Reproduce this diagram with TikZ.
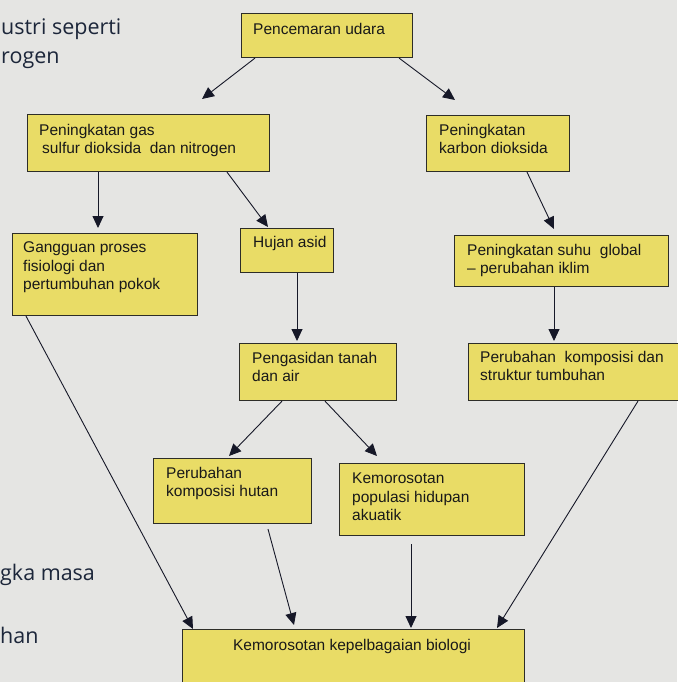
\documentclass[tikz,border=0pt]{standalone}
\usepackage{fontspec}
\setmainfont{Liberation Sans}
\newfontfamily\pagefont{Open Sans}
\usetikzlibrary{arrows.meta,calc}
\definecolor{paper}{RGB}{229,229,227}
\definecolor{boxfill}{RGB}{233,220,102}
\definecolor{boxline}{RGB}{45,45,40}
\definecolor{arrowc}{RGB}{22,24,40}
\definecolor{inkc}{RGB}{28,38,58}
\begin{document}
\begin{tikzpicture}[x=1pt,y=-1pt,
  box/.style={draw=boxline,line width=1.1pt,fill=boxfill,anchor=north west,inner sep=0pt,rectangle},
  txt/.style={anchor=north west,inner sep=0pt,align=left,font=\fontsize{15.5}{18.5}\selectfont,text=black!90},
  arr/.style={draw=arrowc,line width=0.9pt,-{Triangle[length=12pt,width=11pt]}},
  pg/.style={anchor=base west,inner sep=0pt,font=\pagefont\fontsize{21.5}{24}\selectfont,text=inkc}]
\fill[paper] (0,0) rectangle (677,682);
\useasboundingbox (0,0) rectangle (677,682);
% page text fragments
\node[pg] (p1) at (1,35) {ustri seperti};
\node[pg] (p2) at (1,64) {rogen};
\node[pg] (p3) at (0,580) {gka masa};
\node[pg] (p4) at (0,643) {han};
% boxes
\node[box,minimum width=171pt,minimum height=44pt] (b1) at (241,13) {};
\node[box,minimum width=242pt,minimum height=57pt] (b2) at (27,114) {};
\node[box,minimum width=143pt,minimum height=56pt] (b3) at (426,115) {};
\node[box,minimum width=185pt,minimum height=82pt] (b4) at (12,233) {};
\node[box,minimum width=93pt,minimum height=44pt] (b5) at (240,228) {};
\node[box,minimum width=214pt,minimum height=51pt] (b6) at (454,235) {};
\node[box,minimum width=157pt,minimum height=57pt] (b7) at (239,343) {};
\node[box,minimum width=222pt,minimum height=57pt] (b8) at (468,343) {};
\node[box,minimum width=158pt,minimum height=65pt] (b9) at (153,458) {};
\node[box,minimum width=185pt,minimum height=72pt] (b10) at (339,463) {};
\node[box,minimum width=342pt,minimum height=71pt] (b11) at (182,629) {};
% texts (top = first baseline - 11.3)
\node[txt] (t1) at (253,22.7) {Pencemaran udara};
\node[txt] (t2) at (39,123.7) {Peningkatan gas\\\hspace*{3pt}sulfur dioksida\ \ dan nitrogen};
\node[txt] (t3) at (439,123.7) {Peningkatan\\karbon dioksida};
\node[txt] (t4) at (23,241.7) {Gangguan proses\\fisiologi dan\\pertumbuhan pokok};
\node[txt] (t5) at (253,235.7) {Hujan asid};
\node[txt] (t6) at (467,243.7) {Peningkatan suhu\ \ global\\-- perubahan iklim};
\node[txt] (t7) at (252,351.7) {Pengasidan tanah\\dan air};
\node[txt] (t8) at (480,350.7) {Perubahan\ \ komposisi dan\\struktur tumbuhan};
\node[txt] (t9) at (166,466.7) {Perubahan\\komposisi hutan};
\node[txt] (t10) at (352,472.7) {Kemorosotan\\populasi hidupan\\akuatik};
\node[txt,anchor=base] (t11) at (352,650) {Kemorosotan kepelbagaian biologi};
% connectors
\draw[arr] ($(b1.south west)+(14,0)$) -- ($(b2.north west)+(175,-15)$);
\draw[arr] ($(b1.south east)+(-14,0)$) -- ($(b3.north west)+(29,-15)$);
\draw[arr] ($(b2.south west)+(71,0)$) -- ($(b4.north west)+(86,-5)$);
\draw[arr] ($(b2.south west)+(200,0)$) -- ($(b5.north west)+(28,-1)$);
\draw[arr] ($(b3.south west)+(101,0)$) -- ($(b6.north west)+(100,-6)$);
\draw[arr] ($(b5.south west)+(57,0)$) -- ($(b7.north west)+(58,-2)$);
\draw[arr] ($(b6.south west)+(100,0)$) -- ($(b8.north west)+(86,-2)$);
\draw[arr] ($(b7.south west)+(43,0)$) -- ($(b9.north west)+(76,-2)$);
\draw[arr] ($(b7.south west)+(86,0)$) -- ($(b10.north west)+(38,-7)$);
\draw[arr] ($(b4.south west)+(14,0)$) -- ($(b11.north west)+(11,0)$);
\draw[arr] ($(b9.south west)+(115,5)$) -- ($(b11.north west)+(112,-4)$);
\draw[arr] ($(b10.south west)+(72,8)$) -- ($(b11.north west)+(229,-1)$);
\draw[arr] ($(b8.south west)+(170,0)$) -- ($(b11.north west)+(315,-1)$);
\end{tikzpicture}
\end{document}
